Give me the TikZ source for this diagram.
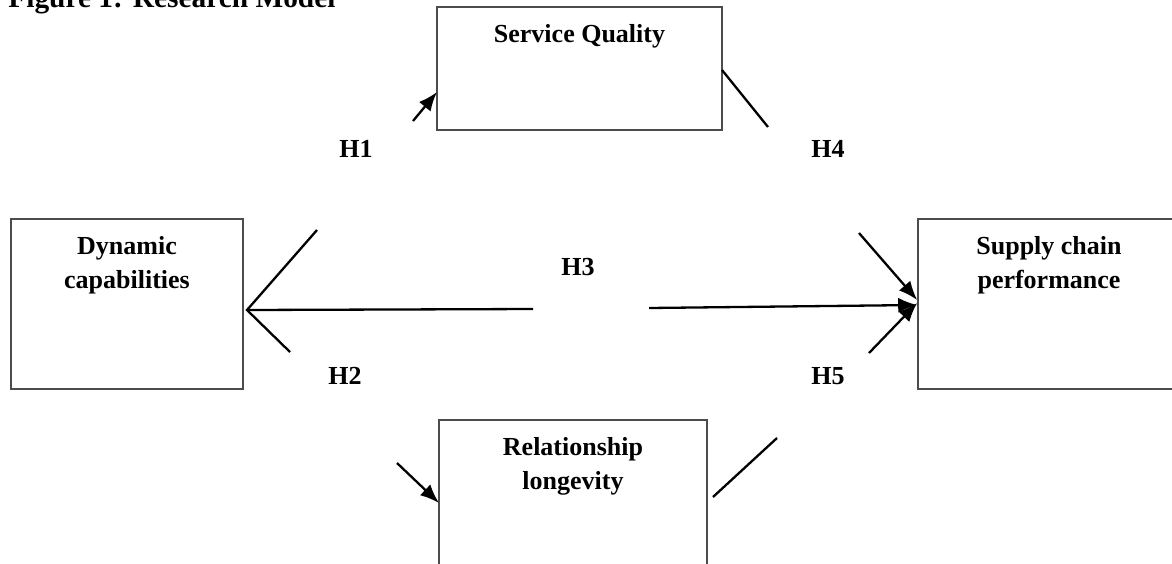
\documentclass[tikz,border=0pt]{standalone}
\usepackage{fontspec}
\setmainfont{Liberation Serif}
\usetikzlibrary{arrows.meta,positioning}
\tikzset{
  box/.style={draw=black!70, line width=0.8pt, inner sep=0pt},
  boxtext/.style={font=\bfseries\fontsize{13}{17}\selectfont, align=center,
    anchor=north, inner sep=0pt, yshift=-9pt},
  hyp/.style={font=\bfseries\fontsize{13}{17}\selectfont},
  link/.style={line width=1.15pt},
  arr/.style={link, -{Latex[length=9.5pt,width=7.5pt]}}
}
\begin{document}
\begin{tikzpicture}[x=0.5pt,y=-0.5pt]
	\clip (0,0) rectangle (1172,563);
	\node[hyp, font=\bfseries\fontsize{14.7}{17}\selectfont, anchor=base west, inner sep=0pt]
		(title) at (8,7) {Figure 1: Research Model};
	% constructs
	\node[box, minimum width=142.5pt, minimum height=61.5pt] (sq) at (579.5,68.5) {};
	\node[box, minimum width=116pt, minimum height=85pt] (dc) at (127,304) {};
	\node[box, minimum width=131pt, minimum height=85pt] (scp) at (1049,304) {};
	\node[box, minimum width=134pt, minimum height=85pt] (rl) at (573,505) {};
	\node[boxtext] (sqtext) at (sq.north) {Service Quality};
	\node[boxtext] (dctext) at (dc.north) {Dynamic\\capabilities};
	\node[boxtext] (scptext) at (scp.north) {Supply chain\\performance};
	\node[boxtext] (rltext) at (rl.north) {Relationship\\longevity};
	% hypotheses
	\node[hyp] (h1) at (356,149) {H1};
	\node[hyp] (h4) at (828,149) {H4};
	\node[hyp] (h3) at (578,267) {H3};
	\node[hyp] (h2) at (345,376) {H2};
	\node[hyp] (h5) at (828,376) {H5};
	% loose ends of the broken paths
	\coordinate (h1s) at (413,121);
	\coordinate (h1e) at (437,92);
	\coordinate (h4s) at (722,70);
	\coordinate (h4e) at (768,127);
	\coordinate (dcup) at (317,230);
	\coordinate (dctip) at (247,310);
	\coordinate (dcmid) at (533,309);
	\coordinate (dclow) at (290,352);
	\coordinate (scpup) at (859,233);
	\coordinate (scpmid) at (649,308);
	\coordinate (scplow) at (869,353);
	\coordinate (h2s) at (397,463);
	\coordinate (h2e) at (439,503);
	\coordinate (h5s) at (713,497);
	\coordinate (h5e) at (777,438);
	% paths
	\draw[arr] (h1s) -- (h1e);
	\draw[link] (h4s) -- (h4e);
	\draw[link] (dcup) -- (dctip) -- (dclow);
	\draw[link] (dcmid) -- (dctip);
	\draw[arr] (scpup) -- (scp.west |- 0,300);
	\draw[arr] (scpmid) -- (scp.west |- 0,305);
	\draw[arr] (scplow) -- (scp.west |- 0,303);
	\draw[arr] (h2s) -- (h2e);
	\draw[link] (h5s) -- (h5e);
\end{tikzpicture}
\end{document}
